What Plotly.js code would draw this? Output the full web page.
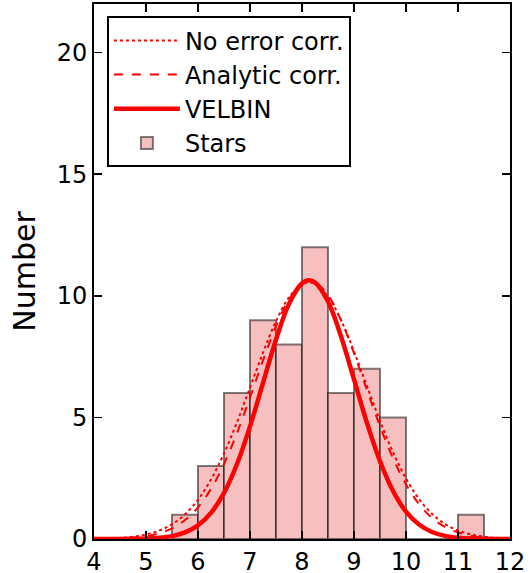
<!DOCTYPE html>
<html>
<head>
<meta charset="utf-8">
<script src="https://cdn.plot.ly/plotly-3.0.1.min.js"></script>
<style>html,body{margin:0;padding:0;background:#fff;}#plot{width:531px;height:573px;}</style>
</head>
<body>
<div id="plot"></div>
<script>
// Histogram of stars (bin centres, width 0.5)
const binCenters = [5.75, 6.25, 6.75, 7.25, 7.75, 8.25, 8.75, 9.25, 9.75, 10.25, 10.75, 11.25];
const starCounts = [1, 3, 6, 9, 8, 12, 6, 7, 5, 0, 0, 1];

// Curves
const curveX = [4.0, 4.25, 4.5, 4.75, 5.0, 5.25, 5.5, 5.75, 6.0, 6.25, 6.5, 6.75, 7.0, 7.25, 7.5, 7.75, 8.0, 8.125, 8.25, 8.5, 8.75, 9.0, 9.25, 9.5, 9.75, 10.0, 10.25, 10.5, 10.75, 11.0, 11.25, 11.5, 11.75, 12.0];
const noErrorCorr = [0.009, 0.021, 0.046, 0.094, 0.184, 0.343, 0.605, 1.016, 1.618, 2.449, 3.520, 4.804, 6.225, 7.661, 8.954, 9.939, 10.476, 10.550, 10.488, 9.970, 9.000, 7.716, 6.283, 4.857, 3.567, 2.487, 1.647, 1.036, 0.618, 0.351, 0.189, 0.097, 0.047, 0.022];
const analyticCorr = [0.004, 0.011, 0.025, 0.056, 0.118, 0.234, 0.439, 0.778, 1.303, 2.062, 3.083, 4.358, 5.818, 7.342, 8.751, 9.858, 10.493, 10.597, 10.552, 10.028, 9.003, 7.638, 6.124, 4.638, 3.320, 2.245, 1.435, 0.866, 0.494, 0.266, 0.136, 0.065, 0.030, 0.013];
const velbin = [0.000, 0.001, 0.002, 0.006, 0.019, 0.049, 0.120, 0.270, 0.561, 1.073, 1.894, 3.083, 4.632, 6.417, 8.201, 9.669, 10.516, 10.640, 10.549, 9.763, 8.335, 6.564, 4.768, 3.195, 1.975, 1.126, 0.593, 0.288, 0.129, 0.053, 0.020, 0.007, 0.002, 0.001];

const xTicks = [4, 5, 6, 7, 8, 9, 10, 11, 12];
const yTicks = [0, 5, 10, 15, 20];

const FONT = 'DejaVu Sans, sans-serif';

const traces = [
  {type: 'bar', name: 'Stars', x: binCenters, y: starCounts, width: 0.5,
   marker: {color: '#f6c0c0', line: {color: 'rgba(0,0,0,0.5)', width: 2}}},
  {type: 'scatter', mode: 'lines', name: 'VELBIN', x: curveX, y: velbin,
   line: {color: '#ff0000', width: 4.5, shape: 'spline'}},
  {type: 'scatter', mode: 'lines', name: 'Analytic corr.', x: curveX, y: analyticCorr,
   line: {color: '#ff0000', width: 2, dash: 'dash', shape: 'spline'}},
  {type: 'scatter', mode: 'lines', name: 'No error corr.', x: curveX, y: noErrorCorr,
   line: {color: '#ff0000', width: 2, dash: 'dot', shape: 'spline'}}
];

const layout = {
  width: 531, height: 573,
  margin: {l: 94, r: 21, t: 4, b: 34, pad: 0},
  paper_bgcolor: '#fff', plot_bgcolor: '#fff',
  font: {family: FONT, size: 24, color: '#000'},
  showlegend: true,
  legend: {
    traceorder: 'reversed',
    x: 0.031, y: 0.977, xanchor: 'left', yanchor: 'top',
    bgcolor: '#fff', bordercolor: '#000', borderwidth: 2,
    font: {family: FONT, size: 24, color: '#000'},
    itemwidth: 66, tracegroupgap: 0
  },
  xaxis: {
    range: [4, 12], tickvals: xTicks, ticktext: xTicks.map(String),
    ticks: 'inside', ticklen: 8, tickwidth: 1.5, tickcolor: '#000',
    showline: true, linecolor: '#000', linewidth: 2, mirror: 'ticks',
    showgrid: false, zeroline: false,
    tickfont: {family: FONT, size: 24, color: '#000'}
  },
  yaxis: {
    range: [0, 22], tickvals: yTicks, ticktext: yTicks.map(String),
    ticks: 'inside', ticklen: 8, tickwidth: 1.5, tickcolor: '#000',
    showline: true, linecolor: '#000', linewidth: 2, mirror: 'ticks',
    showgrid: false, zeroline: false,
    tickfont: {family: FONT, size: 24, color: '#000'},
    title: {text: 'Number', font: {family: FONT, size: 30, color: '#000'}, standoff: 12}
  },
  bargap: 0
};

Plotly.newPlot('plot', traces, layout, {displayModeBar: false, staticPlot: true});
</script>
</body>
</html>
